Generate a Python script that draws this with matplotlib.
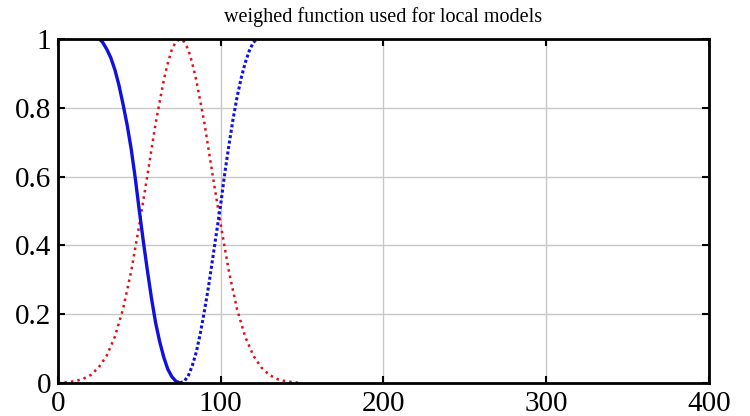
import numpy as np
import matplotlib.pyplot as plt

# weights
red_x = [0, 5, 10, 15, 20, 25, 30, 35, 40, 45, 50, 55, 60, 65, 67.5, 70, 72.5, 75,
         77.5, 80, 82.5, 85, 90, 95, 100, 105, 110, 115, 120, 125, 130, 135, 140, 145, 150]
red_y = [0.0, 0.002, 0.005, 0.011, 0.023, 0.045, 0.08, 0.135, 0.215, 0.325, 0.46, 0.605, 0.755, 0.88, 0.93,
         0.97, 0.992, 1.0,
         0.992, 0.97, 0.93, 0.88, 0.755, 0.605, 0.46, 0.325, 0.215, 0.135, 0.08, 0.045, 0.023, 0.011, 0.005,
         0.002, 0.0]

blue_left_x = [25.5, 27.5, 30, 32.5, 35, 37.5, 40, 42.5, 45, 47.5, 50, 52.5, 55, 57.5,
               60, 62.5, 65, 67.5, 70, 72.5, 75]
blue_left_y = [1.0, 0.99, 0.97, 0.945, 0.91, 0.865, 0.81, 0.75, 0.68, 0.595, 0.5, 0.41, 0.325, 0.245,
               0.175, 0.12, 0.075, 0.04, 0.018, 0.005, 0.0]

blue_right_x = [75, 77.5, 80, 82.5, 85, 87.5, 90, 92.5, 95, 97.5, 100, 102.5, 105, 107.5,
                110, 112.5, 115, 117.5, 120, 122.5]
blue_right_y = [0.0, 0.005, 0.02, 0.05, 0.09, 0.145, 0.21, 0.28, 0.36, 0.44, 0.52, 0.61, 0.69, 0.765,
                0.83, 0.885, 0.93, 0.965, 0.99, 1.0]

plt.rcParams['font.family'] = ['Liberation Serif', 'DejaVu Serif']

fig = plt.figure(figsize=(7.5, 4.16), dpi=100)
ax = fig.add_axes([0.0773, 0.0793, 0.868, 0.827])

ax.plot(red_x, red_y, color='#e01018', linestyle=(0, (1, 1.6)), linewidth=1.8)
ax.plot(blue_left_x, blue_left_y, color='#1010e0', linewidth=2.4)
ax.plot(blue_right_x, blue_right_y, color='#1010e0', linestyle=(0, (1, 0.8)), linewidth=2.2)

ax.set_xlim(0, 400)
ax.set_ylim(0, 1)
ax.set_xticks([0, 100, 200, 300, 400])
ax.set_yticks([0, 0.2, 0.4, 0.6, 0.8, 1])
ax.set_yticklabels(['0', '0.2', '0.4', '0.6', '0.8', '1'])
ax.grid(True, color='#c8c8c8', linewidth=1.0)
ax.tick_params(direction='in', top=True, right=True, length=5, width=1.5,
               labelsize=21)
ax.tick_params(axis='x', pad=6)
ax.tick_params(axis='y', pad=5)
for sp in ax.spines.values():
    sp.set_linewidth(2.0)

ax.set_title('weighed function used for local models', fontsize=14.5, pad=12)

fig.savefig('out.png', dpi=100)
